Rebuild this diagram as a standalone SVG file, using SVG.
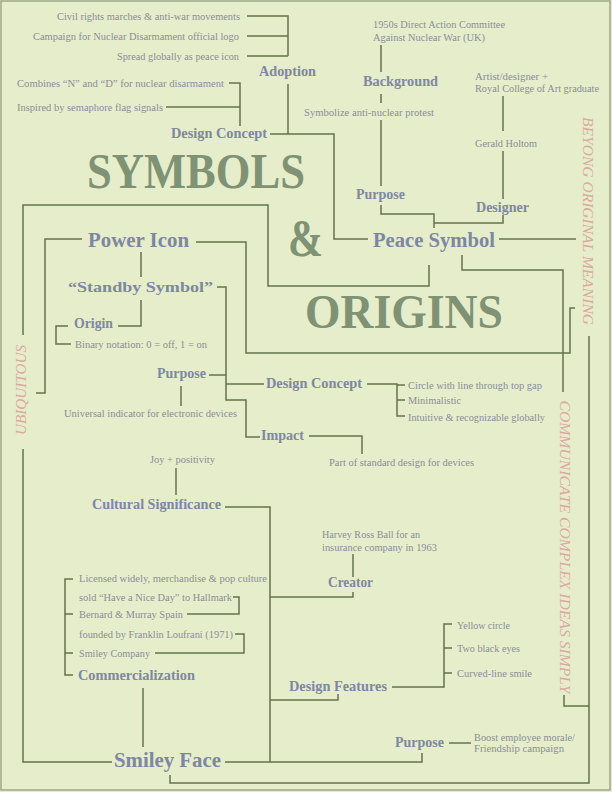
<svg xmlns="http://www.w3.org/2000/svg" width="612" height="792" viewBox="0 0 612 792">
<style>
.node{font-family:"Liberation Serif",serif;font-weight:bold;fill:#7e87a2;font-size:15px}
.big{font-size:20px}
.leaf{font-family:"Liberation Serif",serif;font-size:10px;fill:#8a8e98}
.title{font-family:"Liberation Serif",serif;font-weight:bold;fill:#7f9274}
.side{font-family:"Liberation Serif",serif;font-style:italic;font-size:15px;fill:#dba9a1}
.c path{fill:none;stroke:#63744a;stroke-width:1.5}
</style>
<rect x="0" y="0" width="612" height="792" fill="#e6edcb"/>
<rect x="1" y="1" width="609" height="789" fill="none" stroke="#9ea78a" stroke-width="1.5"/>

<g class="c" id="connectors">
<path d="M247,16H288V56M247,36H288M247,56H288M288,84V134"/>
<path d="M229,83H240V126M166,107H240"/>
<path d="M270,134H334V239H368"/>
<path d="M381,45V72M381,94V103M381,120V186M381,205V214H434V228M503,96V131M503,151V199M503,215V223H434"/>
<path d="M499,239H576"/>
<path d="M462,255V270H563V392"/>
<path d="M429,265V286H268V205H23V335"/>
<path d="M23,449V762H112"/>
<path d="M82,239H45V393H36"/>
<path d="M196,242H246V353H570V308H575"/>
<path d="M141,252V277M141,300V326H118"/>
<path d="M68,326H56V344H71"/>
<path d="M217,287H226V400H246V437H260M209,375H226M226,384H264"/>
<path d="M181,386V406"/>
<path d="M367,384H397V416H405M397,385H405M397,400H405"/>
<path d="M309,436H362V454"/>
<path d="M176,468V495"/>
<path d="M225,507H270V762M225,762H422V753"/>
<path d="M270,597H353V592M353,554V577"/>
<path d="M392,687H444V624H452M444,648H452M444,673H452"/>
<path d="M338,694V700H270"/>
<path d="M449,743H471"/>
<path d="M73,579H65V675H73M65,614H73M65,653H73"/>
<path d="M233,597H239V614H187M235,634H244V653H155"/>
<path d="M143,688V747"/>
<path d="M170,775V783H589V336"/>
<path d="M564,695V706H589"/>
</g>

<g id="title">
<text class="title" x="87" y="188" font-size="50" textLength="218" lengthAdjust="spacingAndGlyphs">SYMBOLS</text>
<text class="title" x="288" y="256" font-size="52" textLength="35" lengthAdjust="spacingAndGlyphs">&amp;</text>
<text class="title" x="305" y="328" font-size="48" textLength="198" lengthAdjust="spacingAndGlyphs">ORIGINS</text>
</g>

<g id="side-labels">
<text class="side" transform="translate(583,221) rotate(90)" text-anchor="middle" textLength="208" lengthAdjust="spacingAndGlyphs">BEYONG ORIGINAL MEANING</text>
<text class="side" transform="translate(560,547) rotate(90)" text-anchor="middle" textLength="293" lengthAdjust="spacingAndGlyphs">COMMUNICATE COMPLEX IDEAS SIMPLY</text>
<text class="side" transform="translate(26,390) rotate(-90)" text-anchor="middle" textLength="90" lengthAdjust="spacingAndGlyphs">UBIQUITOUS</text>
</g>

<g id="peace-adoption">
<text class="node" x="259" y="76" textLength="57" lengthAdjust="spacingAndGlyphs">Adoption</text>
<text class="leaf" x="57" y="19.5" textLength="183" lengthAdjust="spacingAndGlyphs">Civil rights marches &amp; anti-war movements</text>
<text class="leaf" x="33" y="39.5" textLength="206" lengthAdjust="spacingAndGlyphs">Campaign for Nuclear Disarmament official logo</text>
<text class="leaf" x="117" y="59.5" textLength="122" lengthAdjust="spacingAndGlyphs">Spread globally as peace icon</text>
</g>
<g id="peace-design-concept">
<text class="node" x="171" y="138" textLength="96" lengthAdjust="spacingAndGlyphs">Design Concept</text>
<text class="leaf" x="17" y="86.5" textLength="207" lengthAdjust="spacingAndGlyphs">Combines “N” and “D”  for nuclear disarmament</text>
<text class="leaf" x="17" y="110.5" textLength="146" lengthAdjust="spacingAndGlyphs">Inspired by semaphore flag signals</text>
</g>
<g id="peace-background">
<text class="node" x="363" y="86" textLength="75" lengthAdjust="spacingAndGlyphs">Background</text>
<text class="leaf" x="373" y="28" textLength="132" lengthAdjust="spacingAndGlyphs">1950s Direct Action Committee</text>
<text class="leaf" x="373" y="40.5" textLength="112" lengthAdjust="spacingAndGlyphs">Against Nuclear War (UK)</text>
</g>
<g id="peace-purpose">
<text class="node" x="356" y="199" textLength="49" lengthAdjust="spacingAndGlyphs">Purpose</text>
<text class="leaf" x="304" y="115.5" textLength="130" lengthAdjust="spacingAndGlyphs">Symbolize anti-nuclear protest</text>
</g>
<g id="peace-designer">
<text class="node" x="476" y="212" textLength="53" lengthAdjust="spacingAndGlyphs">Designer</text>
<text class="leaf" x="475" y="146.5" textLength="62" lengthAdjust="spacingAndGlyphs">Gerald Holtom</text>
<text class="leaf" x="475" y="79.5" textLength="73" lengthAdjust="spacingAndGlyphs">Artist/designer +</text>
<text class="leaf" x="475" y="91.5" textLength="124" lengthAdjust="spacingAndGlyphs">Royal College of Art graduate</text>
</g>
<g id="peace-symbol">
<text class="node big" x="373" y="247" textLength="122" lengthAdjust="spacingAndGlyphs">Peace Symbol</text>
</g>

<g id="power-icon">
<text class="node big" x="88" y="247" textLength="101" lengthAdjust="spacingAndGlyphs">Power Icon</text>
</g>
<g id="standby-symbol">
<text class="node" x="68" y="292" font-size="19" textLength="145" lengthAdjust="spacingAndGlyphs">“Standby Symbol”</text>
</g>
<g id="power-origin">
<text class="node" x="74" y="328" textLength="39" lengthAdjust="spacingAndGlyphs">Origin</text>
<text class="leaf" x="75" y="347.5" textLength="132" lengthAdjust="spacingAndGlyphs">Binary notation: 0 = off, 1 = on</text>
</g>
<g id="power-purpose">
<text class="node" x="157" y="378" textLength="49" lengthAdjust="spacingAndGlyphs">Purpose</text>
<text class="leaf" x="64" y="416.5" textLength="173" lengthAdjust="spacingAndGlyphs">Universal indicator for electronic devices</text>
</g>
<g id="power-design-concept">
<text class="node" x="266" y="388" textLength="96" lengthAdjust="spacingAndGlyphs">Design Concept</text>
<text class="leaf" x="408" y="388.5" textLength="134" lengthAdjust="spacingAndGlyphs">Circle with line through top gap</text>
<text class="leaf" x="408" y="403.5" textLength="53" lengthAdjust="spacingAndGlyphs">Minimalistic</text>
<text class="leaf" x="408" y="420.5" textLength="137" lengthAdjust="spacingAndGlyphs">Intuitive &amp; recognizable globally</text>
</g>
<g id="power-impact">
<text class="node" x="261" y="440" textLength="43" lengthAdjust="spacingAndGlyphs">Impact</text>
<text class="leaf" x="329" y="465.5" textLength="145" lengthAdjust="spacingAndGlyphs">Part of standard design for devices</text>
</g>

<g id="smiley-cultural">
<text class="node" x="92" y="509" font-size="16" textLength="129" lengthAdjust="spacingAndGlyphs">Cultural Significance</text>
<text class="leaf" x="150" y="462.5" textLength="65" lengthAdjust="spacingAndGlyphs">Joy + positivity</text>
</g>
<g id="smiley-creator">
<text class="node" x="328" y="587" textLength="45" lengthAdjust="spacingAndGlyphs">Creator</text>
<text class="leaf" x="322" y="537.5" textLength="98" lengthAdjust="spacingAndGlyphs">Harvey Ross Ball for an</text>
<text class="leaf" x="322" y="550.5" textLength="115" lengthAdjust="spacingAndGlyphs">insurance company in 1963</text>
</g>
<g id="smiley-commercialization">
<text class="node" x="78" y="680" textLength="117" lengthAdjust="spacingAndGlyphs">Commercialization</text>
<text class="leaf" x="79" y="581.5" textLength="188" lengthAdjust="spacingAndGlyphs">Licensed widely, merchandise &amp; pop culture</text>
<text class="leaf" x="79" y="600.5" textLength="153" lengthAdjust="spacingAndGlyphs">sold “Have a Nice Day” to Hallmark</text>
<text class="leaf" x="79" y="617.5" textLength="104" lengthAdjust="spacingAndGlyphs">Bernard &amp; Murray Spain</text>
<text class="leaf" x="79" y="637.5" textLength="154" lengthAdjust="spacingAndGlyphs">founded by Franklin Loufrani (1971)</text>
<text class="leaf" x="79" y="656.5" textLength="71" lengthAdjust="spacingAndGlyphs">Smiley Company</text>
</g>
<g id="smiley-design-features">
<text class="node" x="289" y="691" textLength="98" lengthAdjust="spacingAndGlyphs">Design Features</text>
<text class="leaf" x="457" y="628.5" textLength="53" lengthAdjust="spacingAndGlyphs">Yellow circle</text>
<text class="leaf" x="457" y="651.5" textLength="63" lengthAdjust="spacingAndGlyphs">Two black eyes</text>
<text class="leaf" x="457" y="676.5" textLength="75" lengthAdjust="spacingAndGlyphs">Curved-line smile</text>
</g>
<g id="smiley-purpose">
<text class="node" x="395" y="747" textLength="49" lengthAdjust="spacingAndGlyphs">Purpose</text>
<text class="leaf" x="474" y="740.5" textLength="101" lengthAdjust="spacingAndGlyphs">Boost employee morale/</text>
<text class="leaf" x="474" y="751.5" textLength="90" lengthAdjust="spacingAndGlyphs">Friendship campaign</text>
</g>
<g id="smiley-face">
<text class="node big" x="114" y="767" textLength="107" lengthAdjust="spacingAndGlyphs">Smiley Face</text>
</g>
</svg>
